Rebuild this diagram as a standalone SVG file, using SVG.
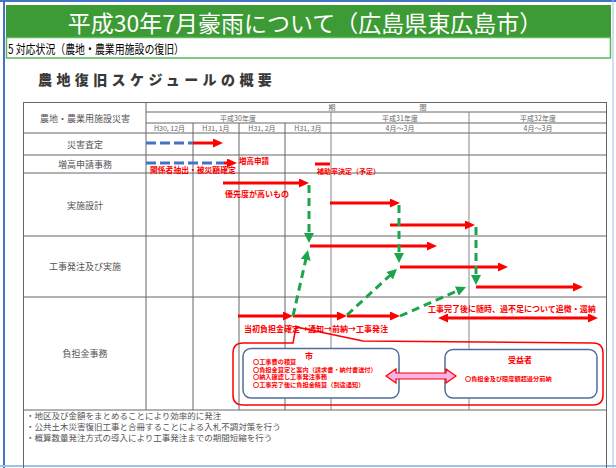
<svg xmlns="http://www.w3.org/2000/svg" width="616" height="468" viewBox="0 0 616 468">
<defs>
<style>
text{font-family:"Noto Sans CJK JP","Noto Sans",sans-serif}
.lbl{fill:#555;font-size:9px;text-anchor:middle;dominant-baseline:central}
.hd{fill:#666;font-size:7px;text-anchor:middle;dominant-baseline:central}
.rt{fill:#f00;font-weight:bold;dominant-baseline:central}
.grid{stroke:#666;stroke-width:1;fill:none}
.red{stroke:#f00;stroke-width:3;fill:none}
.blue{stroke:#4472c4;stroke-width:3;stroke-dasharray:10 4;fill:none}
.grn{stroke:#1aa64a;stroke-width:3;stroke-dasharray:8 5;fill:none}
.note{fill:#555;font-size:8.5px}
</style>
<marker id="ar" viewBox="0 0 10 9" markerWidth="10" markerHeight="9" refX="4" refY="4.5" orient="auto" markerUnits="userSpaceOnUse"><path d="M0,0 L10,4.5 L0,9 z" fill="#f00"/></marker>
<marker id="ars" viewBox="0 0 10 9" markerWidth="10" markerHeight="9" refX="4" refY="4.5" orient="auto-start-reverse" markerUnits="userSpaceOnUse"><path d="M0,0 L10,4.5 L0,9 z" fill="#f00"/></marker>
<marker id="ag" viewBox="0 0 10 10" markerWidth="10" markerHeight="10" refX="4" refY="5" orient="auto" markerUnits="userSpaceOnUse"><path d="M0,0 L10,5 L0,10 z" fill="#1aa64a"/></marker>
</defs>
<rect width="616" height="468" fill="#fff"/>
<!-- page frame -->
<line x1="0" y1="1" x2="616" y2="1" stroke="#4472c4" stroke-width="2"/>
<line x1="4" y1="0" x2="4" y2="468" stroke="#4472c4" stroke-width="2"/>
<line x1="0" y1="466" x2="616" y2="466" stroke="#9dc3e6" stroke-width="2"/>
<line x1="613" y1="0" x2="613" y2="468" stroke="#9dc3e6" stroke-width="1"/>
<!-- title -->
<g id="title">
<rect x="6" y="5" width="605" height="32" fill="#3d9b35"/>
<text x="305" y="22" fill="#fff" font-size="23" text-anchor="middle" dominant-baseline="central">平成30年7月豪雨について（広島県東広島市）</text>
</g>
<g id="subtitle">
<rect x="6.5" y="37.5" width="604" height="20.5" fill="#fff" stroke="#5cb85c" stroke-width="1.5"/>
<text x="8" y="48" fill="#000" font-size="12.5" dominant-baseline="central" textLength="176" lengthAdjust="spacingAndGlyphs">5  対応状況（農地・農業用施設の復旧）</text>
</g>
<g id="heading">
<text x="38" y="79" fill="#3a3a3a" font-size="14" font-weight="900" letter-spacing="4.4" dominant-baseline="central">農地復旧スケジュールの概要</text>
</g>
<!-- table grid -->
<g id="table" class="grid">
<line x1="23" y1="102.5" x2="607" y2="102.5"/>
<line x1="23.5" y1="102" x2="23.5" y2="468"/>
<line x1="606.5" y1="102" x2="606.5" y2="468"/>
<line x1="146" y1="112" x2="607" y2="112"/>
<line x1="146" y1="123" x2="607" y2="123"/>
<line x1="23" y1="133" x2="607" y2="133"/>
<line x1="23" y1="155" x2="607" y2="155"/>
<line x1="23" y1="173" x2="607" y2="173"/>
<line x1="23" y1="236" x2="607" y2="236"/>
<line x1="23" y1="297" x2="607" y2="297"/>
<line x1="23" y1="410" x2="607" y2="410"/>
<line x1="146" y1="102" x2="146" y2="410"/>
<line x1="193" y1="123" x2="193" y2="410"/>
<line x1="239" y1="123" x2="239" y2="410"/>
<line x1="285" y1="123" x2="285" y2="410"/>
<line x1="331" y1="112" x2="331" y2="410" stroke="#888"/>
<line x1="469" y1="112" x2="469" y2="410" stroke="#888"/>
</g>
<g id="header">
<text class="lbl" x="85" y="118">農地・農業用施設災害</text>
<text class="hd" x="332" y="107" font-size="7.5">期</text>
<text class="hd" x="423" y="107" font-size="7.5">間</text>
<text class="hd" x="238" y="118">平成30年度</text>
<text class="hd" x="400" y="118">平成31年度</text>
<text class="hd" x="538" y="118">平成32年度</text>
<text class="hd" x="169.5" y="128" font-size="6.5">H30, 12月</text>
<text class="hd" x="216" y="128" font-size="6.5">H31, 1月</text>
<text class="hd" x="262" y="128" font-size="6.5">H31, 2月</text>
<text class="hd" x="308" y="128" font-size="6.5">H31, 3月</text>
<text class="hd" x="400" y="128" font-size="6.5">4月～3月</text>
<text class="hd" x="538" y="128" font-size="6.5">4月～3月</text>
</g>
<g id="row-satei">
<text class="lbl" x="85" y="144">災害査定</text>
</g>
<g id="row-zoko">
<text class="lbl" x="85" y="164">増高申請事務</text>
<text class="rt" x="150" y="169.5" font-size="7.8">関係者抽出・被災額確定</text>
<text class="rt" x="239" y="160" font-size="7.5">増高申請</text>
<text class="rt" x="317" y="170.5" font-size="7">補助率決定（予定）</text>
</g>
<g id="row-sekkei">
<text class="lbl" x="85" y="205">実施設計</text>
<text class="rt" x="225" y="193" font-size="8">優先度が高いもの</text>
</g>
<g id="row-koji">
<text class="lbl" x="85" y="266">工事発注及び実施</text>
</g>
<g id="row-futan">
<text class="lbl" x="85" y="353">負担金事務</text>
<text class="rt" x="244" y="328" font-size="8">当初負担金確定→通知→前納→工事発注</text>
<text class="rt" x="428" y="308" font-size="8">工事完了後に随時、過不足について追徴・還納</text>
</g>
<!-- connectors -->
<g id="connectors">
<line class="blue" x1="146" y1="143" x2="193" y2="143"/>
<line class="red" x1="193" y1="143" x2="217" y2="143" marker-end="url(#ar)"/>
<line class="blue" x1="146" y1="163" x2="224" y2="163"/>
<line class="red" x1="224" y1="163" x2="231" y2="163" marker-end="url(#ar)"/>
<line class="red" x1="315" y1="164" x2="330" y2="164"/>
<line class="red" x1="223" y1="183" x2="303" y2="183" marker-end="url(#ar)"/>
<line class="red" x1="330" y1="203" x2="394" y2="203" marker-end="url(#ar)"/>
<line class="red" x1="390" y1="225" x2="469" y2="225" marker-end="url(#ar)"/>
<line class="red" x1="310" y1="246" x2="431" y2="246" marker-end="url(#ar)"/>
<line class="red" x1="400" y1="267" x2="502" y2="267" marker-end="url(#ar)"/>
<line class="red" x1="476" y1="287" x2="577" y2="287" marker-end="url(#ar)"/>
<line class="grn" x1="309" y1="185" x2="309" y2="237" marker-end="url(#ag)"/>
<line class="grn" x1="399" y1="205" x2="399" y2="257" marker-end="url(#ag)"/>
<line class="grn" x1="476" y1="227" x2="476" y2="279" marker-end="url(#ag)"/>
<line class="red" x1="238" y1="316" x2="287" y2="316" marker-end="url(#ar)"/>
<line class="red" x1="293" y1="316" x2="341" y2="316" marker-end="url(#ar)"/>
<line class="red" x1="347" y1="316" x2="394" y2="316" marker-end="url(#ar)"/>
<line class="grn" x1="293" y1="316" x2="306.6" y2="255.9" marker-end="url(#ag)"/>
<line class="grn" x1="347" y1="315" x2="392.6" y2="273" marker-end="url(#ag)"/>
<line class="grn" x1="400" y1="316" x2="460.5" y2="289.4" marker-end="url(#ag)"/>
<line class="red" x1="444" y1="318" x2="592" y2="318" marker-start="url(#ars)" marker-end="url(#ars)"/>
</g>
<!-- callout -->
<g id="callout">
<path d="M243,343 L293,343 L296,327 L363,341 L593,343 Q603,343 603,353 L603,395 Q603,405 593,405 L243,405 Q233,405 233,395 L233,353 Q233,343 243,343 Z" fill="none" stroke="#f00" stroke-width="1.5"/>
</g>
<g id="box-city">
<rect x="243" y="348.5" width="156" height="49.5" rx="8" fill="#fff" stroke="#4f6d9a" stroke-width="1.5"/>
<text class="rt" x="309" y="355.5" font-size="8" text-anchor="middle">市</text>
<text class="rt" x="253" y="361.5" font-size="6.2">〇工事費の積算</text>
<text class="rt" x="253" y="369" font-size="6.2">〇負担金算定と案内（請求書・納付書送付）</text>
<text class="rt" x="253" y="376.5" font-size="6.2">〇納入確認し工事発注事務</text>
<text class="rt" x="253" y="384" font-size="6.2">〇工事完了後に負担金精算（別途通知）</text>
</g>
<g id="box-beneficiary">
<rect x="445" y="349.5" width="152" height="48.5" rx="8" fill="#fff" stroke="#4f6d9a" stroke-width="1.5"/>
<text class="rt" x="520" y="359" font-size="8" text-anchor="middle">受益者</text>
<text class="rt" x="465" y="378" font-size="6.2">〇負担金及び限度額超過分前納</text>
</g>
<g id="link-arrow">
<polygon points="386,376 396,369 396,373 446,373 446,369 456,376 446,383 446,379 396,379 396,383" fill="#f7b3e3" stroke="#f00" stroke-width="1.2"/>
</g>
<g id="notes">
<text class="note" x="26" y="419">・地区及び金額をまとめることにより効率的に発注</text>
<text class="note" x="26" y="430">・公共土木災害復旧工事と合冊することによる入札不調対策を行う</text>
<text class="note" x="26" y="441">・概算数量発注方式の導入により工事発注までの期間短縮を行う</text>
</g>
</svg>
